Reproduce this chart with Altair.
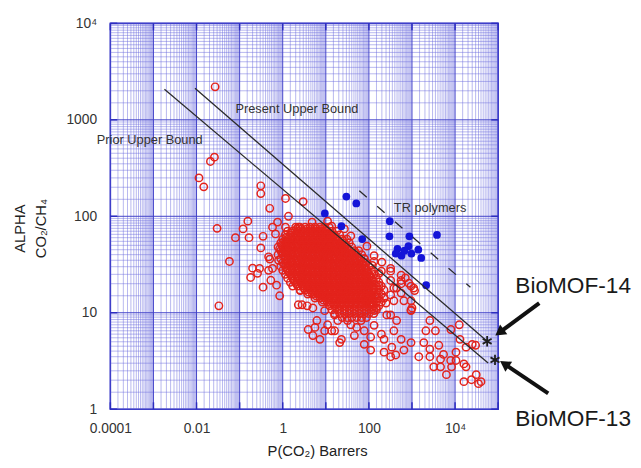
import altair as alt
import pandas as pd

# ---------------- data ----------------
# scattered polymer membranes (open red circles)
red_p = [0.027, 0.021, 0.026, 0.0114, 0.0147, 0.31, 0.31, 1.16, 2.98, 0.50,
         0.155, 0.030, 0.12, 0.08, 0.165, 0.058, 0.35, 0.31, 0.50, 0.20,
         0.26, 0.033, 0.18, 0.35, 0.47, 0.85, 0.53, 0.72, 2.3, 3.7,
         3.9, 5.0, 7.3, 6.2, 11, 13.7, 21, 16, 9.4, 23,
         46, 32, 78, 110, 225, 320, 420, 650, 950, 225,
         380, 440, 320, 950, 650, 560, 950, 560, 1150, 2600,
         2100, 3500, 1880, 2600, 4200, 1440, 2600, 3200, 4600, 5400,
         10500, 13000, 18000, 30000, 10500, 16000, 18000, 6300, 8300, 16000,
         24000, 31000, 40000, 35000, 4600, 7900, 78, 132, 195, 110,
         52, 340, 560, 150, 250, 320, 440, 950, 320, 560,
         850, 950, 11, 27, 38, 90, 132, 200, 320, 560,
         700, 120, 172, 320, 78, 4.8, 13.7, 1.36, 0.76, 0.58,
         1.16, 0.68, 2.3, 0.47, 0.8, 0.58, 0.29, 132, 195, 172,
         380, 110, 225, 380, 132, 260, 2.8, 5.0, 5.6, 9.4,
         16, 19, 38, 66, 2.55, 1100, 1000, 8000, 12500, 25000]
red_alpha = [2200, 370, 410, 250, 202, 207, 172, 153, 142, 121,
             89, 75, 74, 60, 60, 34, 62, 47, 36, 29,
             25.6, 11.8, 23.2, 18.4, 27.5, 15, 21.7, 19.3, 12.1, 11.8,
             6.7, 5.8, 5.3, 8.3, 7.5, 6.5, 4.9, 9.5, 10.5, 5.3,
             5.8, 8.3, 4.7, 4.1, 3.9, 3.5, 3.65, 4.1, 4.9, 5.3,
             6.5, 8.3, 9.5, 10.7, 13.3, 16, 18.9, 20, 17, 8.3,
             6.5, 6.5, 4.9, 4.2, 4.6, 3.5, 3.5, 2.75, 3.3, 3.7,
             3.9, 5.3, 4.4, 4.6, 3.2, 2.95, 2.75, 2.28, 2.75, 1.93,
             2.02, 2.28, 1.93, 1.84, 2.75, 3.2, 6.5, 7.4, 6.0, 5.6,
             7.05, 4.4, 5.3, 11.2, 12.6, 15.3, 18, 13.3, 27, 21.6,
             20.2, 10.5, 89, 74, 62.5, 49, 39, 33.5, 28.8, 24.5,
             23, 31, 25.6, 21.6, 36.4, 87, 79, 100, 87, 77,
             77, 65.6, 77, 38, 35, 28.8, 28.8, 34, 27, 19.3,
             18, 14.2, 14.2, 13.3, 10.5, 9.5, 12.1, 11.2, 7.05, 6.5,
             6.5, 8.3, 7.5, 8.3, 17, 18, 11.2, 6.7, 7.5, 4.7]

# the dense core of the cloud, read row by row (alpha of the row, permeabilities)
blob_alpha = [77, 70, 64, 58, 53, 48, 44, 40, 36.4, 33.1, 30.2, 27.5,
              25, 22.8, 20.7, 18.9, 17.2, 15.6, 14.2, 12.9, 11.8, 10.7, 9.8, 8.9]
blob_p = [
    [2.0, 2.5, 3.3, 4.3, 5.6, 7.3, 9.4, 12],
    [1.3, 1.7, 2.2, 2.9, 3.8, 4.9, 6.4, 8.3, 10.8, 14, 18],
    [1.15, 1.5, 1.95, 2.55, 3.3, 4.3, 5.6, 7.3, 9.4, 12.3, 16, 21],
    [1.0, 1.3, 1.7, 2.25, 2.9, 3.8, 4.9, 6.4, 8.3, 10.8, 14, 18.5, 24, 31],
    [0.9, 1.15, 1.5, 1.95, 2.55, 3.3, 4.3, 5.6, 7.3, 9.4, 12.3, 16, 21, 27, 35],
    [0.78, 1.0, 1.3, 1.7, 2.25, 2.9, 3.8, 4.9, 6.4, 8.3, 10.8, 14, 18.5, 24, 31, 40],
    [0.9, 1.15, 1.5, 1.95, 2.55, 3.3, 4.3, 5.6, 7.3, 9.4, 12.3, 16, 21, 27, 35, 46, 58],
    [0.78, 1.0, 1.3, 1.7, 2.25, 2.9, 3.8, 4.9, 6.4, 8.3, 10.8, 14, 18.5, 24, 31, 40, 52, 68],
    [0.9, 1.15, 1.5, 1.95, 2.55, 3.3, 4.3, 5.6, 7.3, 9.4, 12.3, 16, 21, 27, 35, 46, 60, 78],
    [1.0, 1.3, 1.7, 2.25, 2.9, 3.8, 4.9, 6.4, 8.3, 10.8, 14, 18.5, 24, 31, 40, 52, 68, 88],
    [0.9, 1.15, 1.5, 1.95, 2.55, 3.3, 4.3, 5.6, 7.3, 9.4, 12.3, 16, 21, 27, 35, 46, 60, 78, 100],
    [1.0, 1.3, 1.7, 2.25, 2.9, 3.8, 4.9, 6.4, 8.3, 10.8, 14, 18.5, 24, 31, 40, 52, 68, 88, 115],
    [1.15, 1.5, 1.95, 2.55, 3.3, 4.3, 5.6, 7.3, 9.4, 12.3, 16, 21, 27, 35, 46, 60, 78, 100, 130],
    [1.3, 1.7, 2.25, 2.9, 3.8, 4.9, 6.4, 8.3, 10.8, 14, 18.5, 24, 31, 40, 52, 68, 88, 115, 150],
    [1.5, 1.95, 2.55, 3.3, 4.3, 5.6, 7.3, 9.4, 12.3, 16, 21, 27, 35, 46, 60, 78, 100, 130, 170],
    [1.7, 2.25, 2.9, 3.8, 4.9, 6.4, 8.3, 10.8, 14, 18.5, 24, 31, 40, 52, 68, 88, 115, 150, 195],
    [2.55, 3.3, 4.3, 5.6, 7.3, 9.4, 12.3, 16, 21, 27, 35, 46, 60, 78, 100, 130, 170, 225],
    [3.8, 4.9, 6.4, 8.3, 10.8, 14, 18.5, 24, 31, 40, 52, 68, 88, 115, 150, 195],
    [5.6, 7.3, 9.4, 12.3, 16, 21, 27, 35, 46, 60, 78, 100, 130, 170, 225],
    [8.3, 10.8, 14, 18.5, 24, 31, 40, 52, 68, 88, 115, 150, 195],
    [12.3, 16, 21, 27, 35, 46, 60, 78, 100, 130, 170],
    [14, 18.5, 24, 31, 40, 52, 68, 88, 115, 150],
    [16, 21, 27, 35, 46, 60, 78, 100, 130],
    [24, 31, 40, 52, 68, 88],
]
# in-between rows of the solid core
core_alpha = [73.5, 67, 61, 55.5, 50.5, 46, 42, 38.2, 34.7, 31.6, 28.8, 26.2,
              23.9, 21.7, 19.8, 18, 16.4, 14.9, 13.5, 12.3]
core_p = [
    [2.1, 2.7, 3.55, 4.6, 6.0, 7.8, 10.1],
    [1.6, 2.1, 2.7, 3.55, 4.6, 6.0, 7.8, 10.1, 13.1],
    [1.23, 1.6, 2.1, 2.7, 3.55, 4.6, 6.0, 7.8, 10.1, 13.1, 17],
    [1.1, 1.4, 1.8, 2.4, 3.1, 4.0, 5.2, 6.8, 8.8, 11.5, 15, 19.5, 25],
    [0.95, 1.23, 1.6, 2.1, 2.7, 3.55, 4.6, 6.0, 7.8, 10.1, 13.1, 17, 22.5, 29],
    [0.85, 1.1, 1.4, 1.8, 2.4, 3.1, 4.0, 5.2, 6.8, 8.8, 11.5, 15, 19.5, 25, 33],
    [0.95, 1.23, 1.6, 2.1, 2.7, 3.55, 4.6, 6.0, 7.8, 10.1, 13.1, 17, 22.5, 29, 37.5, 49],
    [1.1, 1.4, 1.8, 2.4, 3.1, 4.0, 5.2, 6.8, 8.8, 11.5, 15, 19.5, 25, 33, 43, 56],
    [1.23, 1.6, 2.1, 2.7, 3.55, 4.6, 6.0, 7.8, 10.1, 13.1, 17, 22.5, 29, 37.5, 49, 64],
    [1.1, 1.4, 1.8, 2.4, 3.1, 4.0, 5.2, 6.8, 8.8, 11.5, 15, 19.5, 25, 33, 43, 56, 73],
    [1.23, 1.6, 2.1, 2.7, 3.55, 4.6, 6.0, 7.8, 10.1, 13.1, 17, 22.5, 29, 37.5, 49, 64, 83],
    [1.4, 1.8, 2.4, 3.1, 4.0, 5.2, 6.8, 8.8, 11.5, 15, 19.5, 25, 33, 43, 56, 73, 95],
    [1.6, 2.1, 2.7, 3.55, 4.6, 6.0, 7.8, 10.1, 13.1, 17, 22.5, 29, 37.5, 49, 64, 83, 108],
    [1.8, 2.4, 3.1, 4.0, 5.2, 6.8, 8.8, 11.5, 15, 19.5, 25, 33, 43, 56, 73, 95, 125],
    [2.1, 2.7, 3.55, 4.6, 6.0, 7.8, 10.1, 13.1, 17, 22.5, 29, 37.5, 49, 64, 83, 108],
    [3.1, 4.0, 5.2, 6.8, 8.8, 11.5, 15, 19.5, 25, 33, 43, 56, 73, 95, 125],
    [4.0, 5.2, 6.8, 8.8, 11.5, 15, 19.5, 25, 33, 43, 56, 73, 95, 125],
    [6.0, 7.8, 10.1, 13.1, 17, 22.5, 29, 37.5, 49, 64, 83, 108, 140],
    [8.8, 11.5, 15, 19.5, 25, 33, 43, 56, 73, 95, 125],
    [13.1, 17, 22.5, 29, 37.5, 49, 64, 83, 108],
]

# thermally rearranged polymers (filled blue circles)
tr_p = [30, 51, 9.5, 23, 70, 305, 300, 870, 3800, 460, 570, 830, 970, 1400, 1640, 670, 2130, 420]
tr_alpha = [160, 136, 107, 79, 58, 89, 62, 62, 64, 46, 39, 49, 41, 45, 37, 44, 19.3, 41]

# upper bounds
prior_p = [0.0018, 58500]
prior_alpha = [2070, 3.02]
present_p = [0.0092, 55500]
present_alpha = [2120, 5.06]
trline_p = [60, 22700]
trline_alpha = [184, 18.4]

# BioMOF points
mof_names = ["BioMOF-14", "BioMOF-13"]
mof_p = [55500, 84500]
mof_alpha = [5.06, 3.24]

# text labels (data units)
label_text = ["Prior Upper Bound", "Present Upper Bound", "TR polymers"]
label_p = [0.00082, 0.08, 380]
label_alpha = [611, 1295, 121]
label_align = ["center", "left", "left"]

mof_label_p = [250000, 250000]
mof_label_alpha = [18.9, 0.79]

# arrows: tail -> head
arrow_tail_p = [900000, 1450000]
arrow_tail_alpha = [12.6, 1.46]
arrow_head_p = [116000, 151000]
arrow_head_alpha = [6.4, 2.88]
arrow_angle = [233, 304]

# axis / grid values
decades_x = [1e-4, 1e-3, 1e-2, 1e-1, 1, 10, 100, 1e3, 1e4, 1e5]
decades_y = [1, 10, 100, 1e3, 1e4]
grid_mult = [1.5, 2, 2.5, 3, 3.5, 4, 4.5, 5, 5.5, 6, 6.5, 7, 7.5, 8, 8.5, 9, 9.5]
x_labels = [1e-4, 1e-2, 1, 100, 1e4]
y_labels = [1, 10, 100, 1e3, 1e4]

# ---------------- build tables ----------------
bp, ba = [], []
for a_list, p_list in ((blob_alpha, blob_p), (core_alpha, core_p)):
    for a, row in zip(a_list, p_list):
        for p in row:
            bp.append(p)
            ba.append(a)
red_df = pd.DataFrame({"p": red_p + bp, "alpha": red_alpha + ba})
tr_df = pd.DataFrame({"p": tr_p, "alpha": tr_alpha})
bounds_df = pd.DataFrame({
    "line": ["prior"] * 2 + ["present"] * 2,
    "p": prior_p + present_p,
    "alpha": prior_alpha + present_alpha,
})
trline_df = pd.DataFrame({"p": trline_p, "alpha": trline_alpha})
mof_df = pd.DataFrame({"name": mof_names, "p": mof_p, "alpha": mof_alpha,
                       "lp": mof_label_p, "la": mof_label_alpha})
lab_df = pd.DataFrame({"t": label_text, "p": label_p, "alpha": label_alpha, "al": label_align})
arrow_df = pd.DataFrame({"p": arrow_tail_p, "alpha": arrow_tail_alpha,
                         "p2": arrow_head_p, "alpha2": arrow_head_alpha, "ang": arrow_angle})

minor_x = [d * m for d in decades_x[:-1] for m in grid_mult]
minor_y = [d * m for d in decades_y[:-1] for m in grid_mult]
gx_minor = pd.DataFrame({"p": minor_x})
gy_minor = pd.DataFrame({"alpha": minor_y})
gx_major = pd.DataFrame({"p": decades_x})
gy_major = pd.DataFrame({"alpha": decades_y})

FONT = "Liberation Sans"
W, H = 394, 392

xs = alt.Scale(type="log", domain=[1e-4, 1e5], nice=False)
ys = alt.Scale(type="log", domain=[1, 1e4], nice=False)

x_axis = alt.Axis(
    values=x_labels, grid=False, ticks=False, domain=False, labelFlush=False,
    labelExpr="datum.value < 0.001 ? '0.0001' : datum.value < 0.1 ? '0.01' : datum.value < 10 ? '1' : datum.value < 1000 ? '100' : '10⁴'",
    labelFont=FONT, labelFontSize=14, labelColor="#333333", labelPadding=13,
    title="P(CO₂) Barrers", titleFont=FONT, titleFontSize=15, titleFontWeight="normal",
    titleColor="#222222", titleX=210, titleY=42, titleBaseline="middle", titleAlign="center",
)
y_axis = alt.Axis(
    values=y_labels, grid=False, ticks=False, domain=False, labelFlush=False,
    labelExpr="datum.value < 5 ? '1' : datum.value < 50 ? '10' : datum.value < 500 ? '100' : datum.value < 5000 ? '1000' : '10⁴'",
    labelFont=FONT, labelFontSize=14, labelColor="#333333", labelPadding=14,
    title=["ALPHA", "CO₂/CH₄"], titleFont=FONT, titleFontSize=15, titleFontWeight="normal",
    titleColor="#222222", titleAngle=-90, titleX=-92, titleY=208, titleBaseline="middle",
    titleAlign="center", titleLineHeight=21,
)


def X(field="p"):
    return alt.X(f"{field}:Q", scale=xs, axis=x_axis, title="P(CO₂) Barrers")


def Y(field="alpha"):
    return alt.Y(f"{field}:Q", scale=ys, axis=y_axis, title=["ALPHA", "CO₂/CH₄"])


# grid
vminor = alt.Chart(gx_minor).mark_rule(color="#6b6bdc", strokeWidth=0.8, opacity=0.6).encode(x=X())
hminor = alt.Chart(gy_minor).mark_rule(color="#6b6bdc", strokeWidth=0.8, opacity=0.6).encode(y=Y())
vmajor = alt.Chart(gx_major).mark_rule(color="#4040c8", strokeWidth=1).encode(x=X())
hmajor = alt.Chart(gy_major).mark_rule(color="#4040c8", strokeWidth=1).encode(y=Y())

# inward ticks on the frame
tick_b = alt.Chart(gx_major).mark_rule(color="#2c2cc0", strokeWidth=1.5).encode(
    x=X(), y=alt.value(H), y2=alt.value(H - 7))
tick_t = alt.Chart(gx_major).mark_rule(color="#2c2cc0", strokeWidth=1.5).encode(
    x=X(), y=alt.value(0), y2=alt.value(7))
tick_l = alt.Chart(gy_major).mark_rule(color="#2c2cc0", strokeWidth=1.5).encode(
    y=Y(), x=alt.value(0), x2=alt.value(7))
tick_r = alt.Chart(gy_major).mark_rule(color="#2c2cc0", strokeWidth=1.5).encode(
    y=Y(), x=alt.value(W), x2=alt.value(W - 7))

red = alt.Chart(red_df).mark_point(shape="circle", filled=False, color="#e3231c",
                                   size=56, strokeWidth=1.5, opacity=1).encode(x=X(), y=Y())
blue = alt.Chart(tr_df).mark_point(shape="circle", filled=True, color="#1414d8",
                                   size=62, opacity=1).encode(x=X(), y=Y())

bounds = alt.Chart(bounds_df).mark_line(color="#2a2a2a", strokeWidth=1.3).encode(
    x=X(), y=Y(), detail="line:N")
trline = alt.Chart(trline_df).mark_line(color="#2a2a2a", strokeWidth=1.3, strokeDash=[10, 14]).encode(
    x=X(), y=Y())

labels_c = alt.Chart(lab_df[lab_df.al == "center"]).mark_text(
    font=FONT, fontSize=13, color="#333333", align="center", baseline="middle").encode(
    x=X(), y=Y(), text="t:N")
labels_l = alt.Chart(lab_df[lab_df.al == "left"]).mark_text(
    font=FONT, fontSize=13, color="#333333", align="left", baseline="middle").encode(
    x=X(), y=Y(), text="t:N")

aster = alt.Chart(mof_df).mark_point(
    shape="M0,-1L0,1M-0.87,-0.5L0.87,0.5M-0.87,0.5L0.87,-0.5",
    filled=False, color="#1e1e1e", size=110, strokeWidth=1.8, opacity=1).encode(x=X(), y=Y())
mof_text = alt.Chart(mof_df).mark_text(
    font=FONT, fontSize=23, color="#1a1a1a", align="left", baseline="middle").encode(
    x=X("lp"), y=Y("la"), text="name:N")

arrow_shaft = alt.Chart(arrow_df).mark_rule(color="#111111", strokeWidth=4).encode(
    x=X(), y=Y(), x2="p2:Q", y2="alpha2:Q")
arrow_head = alt.Chart(arrow_df).mark_point(shape="triangle", filled=True, color="#111111",
                                            size=150, opacity=1).encode(
    x=X("p2"), y=Y("alpha2"), angle=alt.Angle("ang:Q", scale=None))

chart = alt.layer(
    vminor, hminor, vmajor, hmajor, tick_b, tick_t, tick_l, tick_r,
    red, blue, bounds, trline, labels_c, labels_l, aster, mof_text, arrow_shaft, arrow_head,
).properties(
    width=W, height=H,
    autosize=alt.AutoSizeParams(type="none"),
    padding={"left": 104, "top": 12, "right": 137, "bottom": 48},
    background="white",
).configure_view(
    stroke="#3232c8", strokeWidth=1.6,
)

chart.save("out.html", embed_options={"renderer": "svg", "actions": False})
